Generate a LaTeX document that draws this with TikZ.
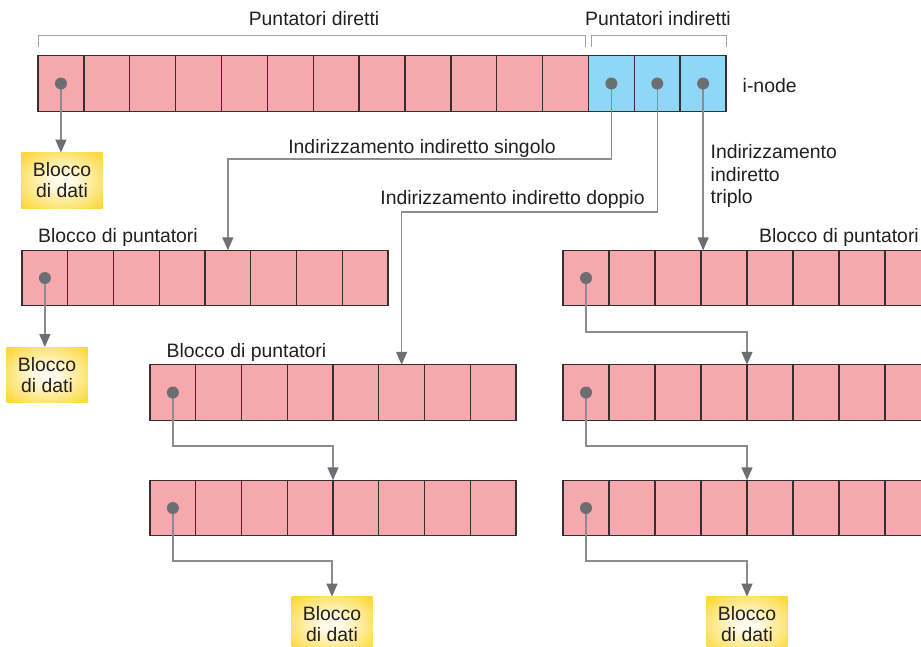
\documentclass[tikz,border=0pt]{standalone}
\usepackage{fontspec}
\setmainfont{Liberation Sans}
\usetikzlibrary{arrows.meta}
\definecolor{cellpink}{HTML}{F5A9AC}
\definecolor{cellblue}{HTML}{8ED7F6}
\definecolor{cellline}{HTML}{342F30}
\definecolor{dotgray}{HTML}{6D6E71}
\definecolor{linegray}{HTML}{8C8C8E}
\definecolor{bracketgray}{HTML}{A3A3A5}
\definecolor{txt}{HTML}{231F20}
\definecolor{dataIn}{HTML}{FFFBEA}
\definecolor{dataMid}{HTML}{FDE26A}
\definecolor{dataOut}{HTML}{FBCF0E}
\pgfdeclareradialshading{datashade}{\pgfpoint{0bp}{0bp}}{color(0bp)=(dataIn); color(6bp)=(dataIn); color(26bp)=(dataMid); color(40bp)=(dataOut); color(50bp)=(dataOut)}
\newcommand{\mkrow}[6]{%
  \foreach \k in {1,...,#4}{%
    \node[cell, minimum width=#5pt, fill=#6] (#1\k) at ({#2+(\k-0.5)*#5}, #3) {};}}
\begin{document}
\begin{tikzpicture}[x=1pt,y=-1pt,
  every node/.style={font=\fontsize{19.4}{22}\selectfont, text=txt, inner sep=0pt},
  cell/.style={draw=cellline, line width=1.4pt, minimum height=55.5pt, outer sep=0pt},
  ptr/.style={circle, fill=dotgray, minimum size=12pt},
  conn/.style={draw=linegray, line width=1.5pt, -{Triangle[length=13pt,width=11pt,color=dotgray]}},
  brk/.style={draw=bracketgray, line width=1pt},
  datablk/.style={minimum width=81pt, minimum height=55.5pt, shading=datashade, align=center,
     font=\fontsize{19.4}{21}\selectfont}]
\clip (0,0) rectangle (921,646);
% i-node
\foreach \k in {1,...,12}{\node[cell, minimum width=45.87pt, fill=cellpink] (in\k) at ({38+(\k-0.5)*45.87}, 83.5) {};}
\foreach \k in {13,14,15}{\node[cell, minimum width=45.87pt, fill=cellblue] (in\k) at ({38+(\k-0.5)*45.87}, 83.5) {};}
% brackets
\draw[brk] (38,46.5) -- (38,35) -- (585,35) -- (585,46.5);
\draw[brk] (591,46.5) -- (591,35) -- (726,35) -- (726,46.5);
\node[anchor=base] (lbdir) at (314,25.3) {Puntatori diretti};
\node[anchor=base] (lbind) at (658,25.3) {Puntatori indiretti};
\node[anchor=base west] (lbinode) at (742.5,92) {i-node};
% pointer blocks
\mkrow{pa}{22}{278}{8}{45.75}{cellpink}
\mkrow{pb}{150}{392.5}{8}{45.75}{cellpink}
\mkrow{pc}{150}{508}{8}{45.75}{cellpink}
\mkrow{ra}{563}{278}{8}{46}{cellpink}
\mkrow{rb}{563}{392.5}{8}{46}{cellpink}
\mkrow{rc}{563}{508}{8}{46}{cellpink}
\node[anchor=base west] (lbpa) at (38,242) {Blocco di puntatori};
\node[anchor=base west] (lbpb) at (166.5,357) {Blocco di puntatori};
\node[anchor=base west] (lbra) at (759,242) {Blocco di puntatori};
% data blocks
\node[datablk] (d1) at (62,180.5) {Blocco\\di dati};
\node[datablk] (d2) at (47,375) {Blocco\\di dati};
\node[datablk] (d3) at (332,624.5) {Blocco\\di dati};
\node[datablk] (d4) at (747,624.5) {Blocco\\di dati};
% labels
\node[anchor=base] (lbs) at (422,153) {Indirizzamento indiretto singolo};
\node[anchor=base] (lbd) at (512.5,204.5) {Indirizzamento indiretto doppio};
\node[anchor=north west, align=left, font=\fontsize{19.4}{22.5}\selectfont] (lbt) at (710.5,144.5) {Indirizzamento\\indiretto\\triplo};
% turning points
\coordinate (s1) at (400,159);
\coordinate (s2) at (500,212);
\coordinate (e1) at (250,446);
\coordinate (e2) at (250,561);
\coordinate (e3) at (650,332);
\coordinate (e4) at (650,446);
\coordinate (e5) at (650,561);
% connectors
\draw[conn] (in1.center) -- (in1.center |- d1.north);
\draw[conn] (in13.center) |- (s1) -| (pa5.north);
\draw[conn] (in14.center) |- (s2) -| (pb6.north);
\draw[conn] (in15.center) -- (in15.center |- ra4.north);
\draw[conn] (pa1.center) -- (pa1.center |- d2.north);
\draw[conn] (pb1.center) |- (e1) -| (pc5.north west);
\draw[conn] (pc1.center) |- (e2) -| (d3.north);
\draw[conn] (ra1.center) |- (e3) -| (rb5.north west);
\draw[conn] (rb1.center) |- (e4) -| (rc5.north west);
\draw[conn] (rc1.center) |- (e5) -| (d4.north);
% pointer dots
\foreach \c in {in1,in13,in14,in15,pa1,pb1,pc1,ra1,rb1,rc1}{\node[ptr] (dot\c) at (\c.center) {};}
\end{tikzpicture}
\end{document}
